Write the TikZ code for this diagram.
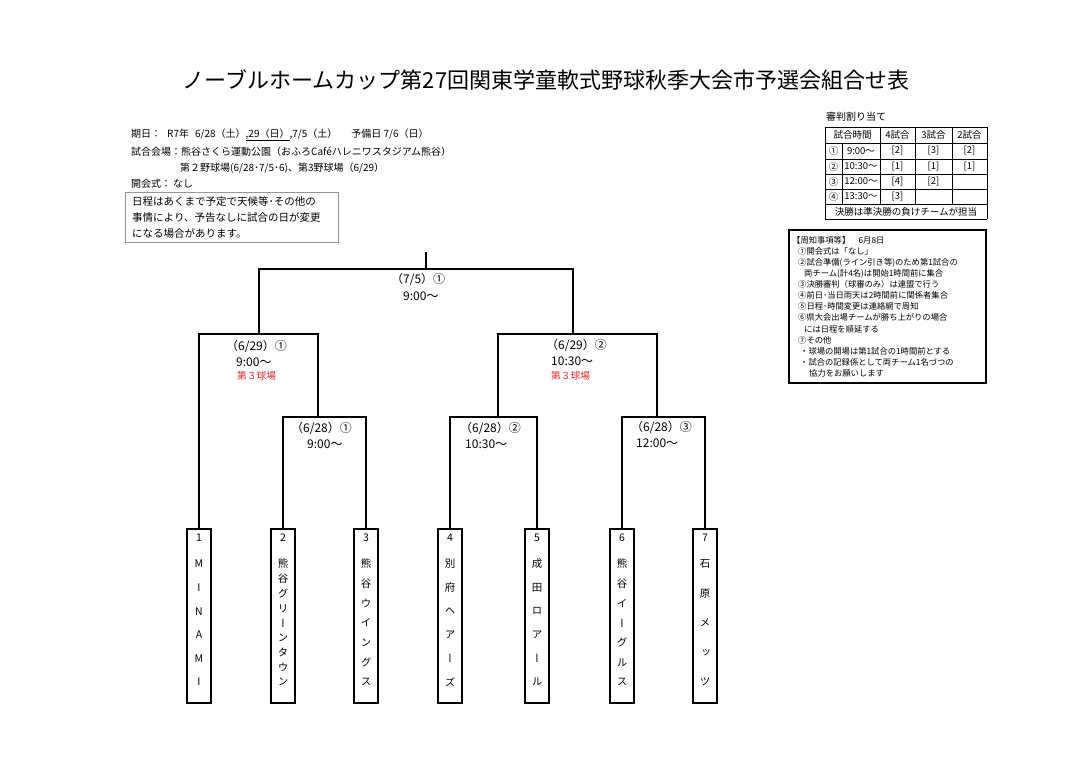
\documentclass[tikz,border=0pt]{standalone}
\usepackage{fontspec}
\setmainfont{Noto Sans CJK JP}
\newfontfamily\vertfont{Noto Sans CJK JP}[RawFeature=+vert]
\definecolor{venuered}{RGB}{228,40,40}
\definecolor{boxgray}{RGB}{150,150,150}

\begin{document}
\begin{tikzpicture}[x=1pt,y=-1pt]
	\tikzstyle{teambox}=[draw=black,line width=1.1pt,minimum width=24pt,minimum height=174pt,inner sep=0pt]
	\tikzstyle{teamtext}=[inner sep=0pt,font=\vertfont\fontsize{10.5}{10.5}\selectfont]
	\tikzstyle{bracket}=[line width=1.2pt]
	\tikzstyle{matchtext}=[anchor=west,inner sep=0pt,font=\fontsize{12}{12}\selectfont]
	% venue line under the semi-final times
	\tikzstyle{venue}=[matchtext,text=venuered,font=\fontsize{9.7}{9.7}\selectfont]
	\tikzstyle{infotext}=[anchor=west,inner sep=0pt,font=\fontsize{10}{10}\selectfont]
	\tikzstyle{warntext}=[infotext,font=\fontsize{10.5}{10.5}\selectfont]
	\tikzstyle{celltext}=[inner sep=0pt,font=\fontsize{9.5}{9.5}\selectfont]
	\tikzstyle{tableline}=[line width=0.8pt]

	\fill[white] (0,0) rectangle (1080,763);
	\useasboundingbox (0,0) rectangle (1080,763);

	\node[font=\fontsize{22}{22}\selectfont] (title) at (546,80) {ノーブルホームカップ第27回関東学童軟式野球秋季大会市予選会組合せ表};

	% dates and venue
	\node[infotext] (dates) at (131,135) {期日：\hspace{6pt}R7年\hspace{6pt}6/28（土）\underline{,29（日）},7/5（土）\hspace{14pt}予備日 7/6（日）};
	\node[infotext] (place) at (131,152) {試合会場：熊谷さくら運動公園（おふろCaféハレニワスタジアム熊谷）};
	\node[infotext] (fields) at (180,168) {第２野球場(6/28･7/5･6)、第3野球場（6/29）};
	\node[infotext] (opening) at (131,184) {開会式：\hspace{2pt}なし};
	\draw[boxgray,line width=1pt] (125,192) rectangle (338,242);
	\node[warntext] (warn1) at (132,202) {日程はあくまで予定で天候等･その他の};
	\node[warntext] (warn2) at (132,218) {事情により、予告なしに試合の日が変更};
	\node[warntext] (warn3) at (132,233) {になる場合があります。};

	% referee table
	\node[infotext] (reftitle) at (826,117) {審判割り当て};
	\foreach \yy in {127,143,159,174,189,204,219}
		\draw[tableline] (825,\yy) -- (987,\yy);
	\draw[tableline] (825,127) -- (825,219);
	\draw[tableline] (987,127) -- (987,219);
	\foreach \xx in {880,915,952}
		\draw[tableline] (\xx,127) -- (\xx,204);
	\draw[tableline] (842,143) -- (842,204);
	\node[celltext] (head0) at (852.5,135) {試合時間};
	\node[celltext] (head4) at (897.5,135) {4試合};
	\node[celltext] (head3) at (933.5,135) {3試合};
	\node[celltext] (head2) at (969.5,135) {2試合};
	\foreach \r/\tm/\a/\b/\c/\yy [count=\k] in {①/9:00～/[2]/[3]/[2]/151, ②/10:30～/[1]/[1]/[1]/166.5, ③/12:00～/[4]/[2]/{}/181.5, ④/13:30～/[3]/{}/{}/196.5}{
		\node[celltext] (slot\k) at (833.5,\yy) {\r};
		\node[celltext] (time\k) at (861,\yy) {\tm};
		\node[celltext] (four\k) at (897.5,\yy) {\a};
		\node[celltext] (three\k) at (933.5,\yy) {\b};
		\node[celltext] (two\k) at (969.5,\yy) {\c};
	}
	\node[celltext] (reffoot) at (906,211.5) {決勝は準決勝の負けチームが担当};

	% notices
	\draw[line width=1.2pt] (789,230) rectangle (986,383);
	\node[anchor=north west,align=left,inner sep=0pt,font=\fontsize{8.3}{11.1}\selectfont] (notice) at (792,236) {%
		【周知事項等】　6月8日\\
		\hspace*{6pt}①開会式は「なし」\\
		\hspace*{6pt}②試合準備(ライン引き等)のため第1試合の\\
		\hspace*{12pt}両チーム(計4名)は開始1時間前に集合\\
		\hspace*{6pt}③決勝審判（球審のみ）は連盟で行う\\
		\hspace*{6pt}④前日･当日雨天は2時間前に関係者集合\\
		\hspace*{6pt}⑤日程･時間変更は連絡網で周知\\
		\hspace*{6pt}⑥県大会出場チームが勝ち上がりの場合\\
		\hspace*{12pt}には日程を順延する\\
		\hspace*{6pt}⑦その他\\
		\hspace*{8pt}・球場の開場は第1試合の1時間前とする\\
		\hspace*{8pt}・試合の記録係として両チーム1名づつの\\
		\hspace*{17pt}協力をお願いします};

	% teams
	\foreach \i/\x/\n/\name in {1/199/6/{M,I,N,A,M,I}, 2/283/9/{熊,谷,グ,リ,ー,ン,タ,ウ,ン}, 3/366/7/{熊,谷,ウ,イ,ン,グ,ス}, 4/450/6/{別,府,ヘ,ア,ー,ズ}, 5/537/6/{成,田,ロ,ア,ー,ル}, 6/622/7/{熊,谷,イ,ー,グ,ル,ス}, 7/705/5/{石,原,メ,ッ,ツ}}{
		\node[teambox] (t\i) at (\x,616) {};
		\node[teamtext] (num\i) at (\x,538) {\i};
		\foreach \c [count=\k from 0] in \name
			\node[teamtext] (t\i-\k) at (\x,{564+\k*118/(\n-1)}) {\c};
	}

	% bracket
	\coordinate (q1) at (318,417);
	\coordinate (q2) at (498,417);
	\coordinate (q3) at (657,417);
	\coordinate (s1) at (259,334);
	\coordinate (s2) at (573,334);
	\coordinate (fin) at (426,269);
	\coordinate (top) at (426,252);
	\draw[bracket] (t2.north) |- (q1) -| (t3.north);
	\draw[bracket] (t4.north) |- (q2) -| (t5.north);
	\draw[bracket] (t6.north) |- (q3) -| (t7.north);
	\draw[bracket] (t1.north) |- (s1) -| (q1);
	\draw[bracket] (q2) |- (s2) -| (q3);
	\draw[bracket] (s1) |- (fin) -| (s2);
	\draw[bracket] (fin) -- (top);

	% match times
	\node[matchtext] (fdate) at (391,279) {（7/5）①};
	\node[matchtext] (ftime) at (403,296) {9:00～};
	\node[matchtext] (s1date) at (226,346) {（6/29）①};
	\node[matchtext] (s1time) at (236,362) {9:00～};
	\node[venue] (s1venue) at (237,376) {第３球場};
	\node[matchtext] (s2date) at (546,345) {（6/29）②};
	\node[matchtext] (s2time) at (551,361) {10:30～};
	\node[venue] (s2venue) at (551,376) {第３球場};
	\node[matchtext] (q1date) at (291,428) {（6/28）①};
	\node[matchtext] (q1time) at (307,444) {9:00～};
	\node[matchtext] (q2date) at (460,428) {（6/28）②};
	\node[matchtext] (q2time) at (465,444) {10:30～};
	\node[matchtext] (q3date) at (631,427) {（6/28）③};
	\node[matchtext] (q3time) at (636,443) {12:00～};
\end{tikzpicture}
\end{document}
